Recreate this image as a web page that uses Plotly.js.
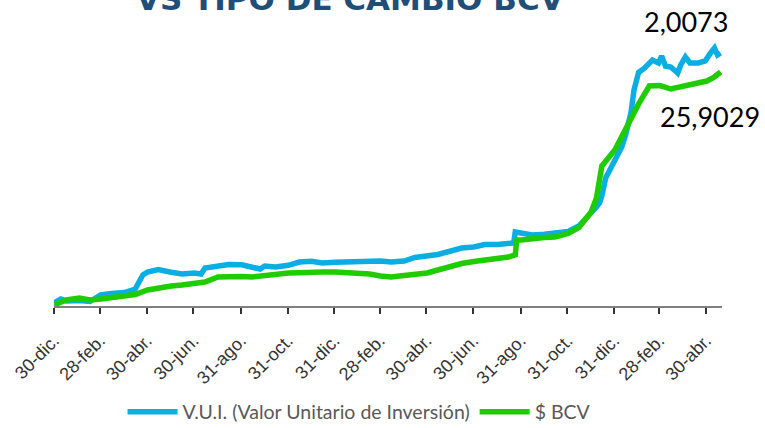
<!DOCTYPE html>
<html>
<head>
<meta charset="utf-8">
<script src="https://cdn.plot.ly/plotly-3.0.1.min.js"></script>
<style>
  html, body { margin: 0; padding: 0; background: #ffffff; }
  #chart { width: 765px; height: 428px; }
</style>
</head>
<body>
<div id="chart"></div>
<script>
// ---- Data ----
const tickDates = ["2020-12-30","2021-02-28","2021-04-30","2021-06-30","2021-08-31","2021-10-31",
  "2021-12-31","2022-02-28","2022-04-30","2022-06-30","2022-08-31","2022-10-31","2022-12-31",
  "2023-02-28","2023-04-30"];
const tickLabels = ["30-dic.","28-feb.","30-abr.","30-jun.","31-ago.","31-oct.","31-dic.",
  "28-feb.","30-abr.","30-jun.","31-ago.","31-oct.","31-dic.","28-feb.","30-abr."];

const vuiDates = ["2020-12-30","2021-01-08","2021-01-15","2021-02-01","2021-02-15","2021-03-01",
  "2021-03-15","2021-04-01","2021-04-15","2021-04-25","2021-05-01","2021-05-15","2021-06-01",
  "2021-06-15","2021-07-01","2021-07-10","2021-07-15","2021-08-01","2021-08-15","2021-09-01",
  "2021-09-15","2021-09-25","2021-10-01","2021-10-15","2021-11-01","2021-11-15","2021-12-01",
  "2021-12-15","2022-01-01","2022-01-15","2022-02-01","2022-02-15","2022-03-01","2022-03-15",
  "2022-04-01","2022-04-15","2022-05-01","2022-05-15","2022-06-01","2022-06-15","2022-07-01",
  "2022-07-15","2022-08-01","2022-08-15","2022-08-22","2022-08-24","2022-09-01","2022-09-15",
  "2022-10-01","2022-10-15","2022-11-01","2022-11-15","2022-12-01","2022-12-08","2022-12-12",
  "2022-12-15","2022-12-20","2022-12-25","2023-01-01","2023-01-10","2023-01-15","2023-01-22",
  "2023-01-26","2023-02-01","2023-02-09","2023-02-15","2023-02-19","2023-02-27","2023-03-03",
  "2023-03-08","2023-03-15","2023-03-24","2023-03-28","2023-04-03","2023-04-09","2023-04-20",
  "2023-04-29","2023-05-05","2023-05-11","2023-05-15","2023-05-19"];
const vuiValues = [0.0953,0.1259,0.1106,0.1144,0.1068,0.1565,
  0.1680,0.1756,0.2024,0.3094,0.3324,0.3515,0.3308,
  0.3171,0.3247,0.3171,0.3630,0.3744,0.3897,0.3874,
  0.3706,0.3553,0.3783,0.3706,0.3836,0.4089,0.4150,
  0.4012,0.4066,0.4112,0.4165,0.4165,0.4165,0.4089,
  0.4165,0.4433,0.4563,0.4662,0.4930,0.5159,0.5236,
  0.5427,0.5427,0.5504,0.5542,0.6383,0.6269,0.6154,
  0.6207,0.6268,0.6421,0.6842,0.7760,0.8295,0.8601,
  0.9136,1.0513,1.1048,1.1813,1.2884,1.3802,1.5484,
  1.7243,1.8590,1.8926,1.9385,1.9538,1.9308,1.9843,
  1.9079,1.9002,1.8543,1.9155,1.9767,1.9308,1.9308,
  1.9461,2.0000,2.0455,1.9920,2.0073];

const bcvDates = ["2020-12-30","2021-01-15","2021-02-01","2021-02-15","2021-03-01","2021-03-15",
  "2021-04-01","2021-04-15","2021-05-01","2021-05-15","2021-06-01","2021-06-15","2021-07-01",
  "2021-07-15","2021-08-01","2021-08-15","2021-09-01","2021-09-15","2021-10-01","2021-10-15",
  "2021-11-01","2021-11-15","2021-12-01","2021-12-15","2022-01-01","2022-01-15","2022-02-01",
  "2022-02-15","2022-03-01","2022-03-15","2022-04-01","2022-04-15","2022-05-01","2022-05-15",
  "2022-06-01","2022-06-15","2022-07-01","2022-07-15","2022-08-01","2022-08-15","2022-08-24",
  "2022-08-26","2022-09-01","2022-09-15","2022-10-01","2022-10-15","2022-11-01","2022-11-15",
  "2022-12-01","2022-12-08","2022-12-12","2022-12-15","2023-01-01","2023-01-15","2023-02-01",
  "2023-02-15","2023-03-01","2023-03-15","2023-04-01","2023-04-15","2023-05-01","2023-05-10",
  "2023-05-19"];
const bcvValues = [1.107,1.64,1.85,1.64,1.75,1.89,
  1.96,2.22,2.70,2.92,3.13,3.24,3.40,
  3.55,4.09,4.16,4.14,4.09,4.28,4.37,
  4.51,4.54,4.62,4.62,4.62,4.59,4.51,
  4.41,4.19,4.09,4.25,4.35,4.51,4.83,
  5.26,5.52,5.74,5.86,6.00,6.21,6.43,
  8.02,8.02,8.18,8.28,8.34,8.72,9.35,
  11.00,12.49,14.94,15.90,17.60,19.84,22.50,
  24.41,24.46,24.09,24.41,24.73,24.94,25.32,
  25.9029];

const seriesNames = ["V.U.I. (Valor Unitario de Inversión)", "$ BCV"];
const lastVui = "2,0073";
const lastBcv = "25,9029";
const titleText = "VS TIPO DE CAMBIO BCV";

// ---- Chart ----
const traces = [
  { x: vuiDates, y: vuiValues, name: seriesNames[0], type: "scatter", mode: "lines",
    yaxis: "y", line: { color: "#0AAEE2", width: 5.5 }, hoverinfo: "skip" },
  { x: bcvDates, y: bcvValues, name: seriesNames[1], type: "scatter", mode: "lines",
    yaxis: "y2", line: { color: "#1FCC00", width: 5.5 }, hoverinfo: "skip" }
];

const layout = {
  width: 765, height: 428,
  margin: { l: 54, r: 43, t: 30, b: 122 },
  paper_bgcolor: "#ffffff", plot_bgcolor: "#ffffff",
  showlegend: true,
  legend: {
    orientation: "h", xref: "container", yref: "container",
    x: 0.47, xanchor: "center", y: 0.037, yanchor: "middle",
    font: { family: "Lato, 'Open Sans', sans-serif", size: 19.5, color: "#595959" },
    itemwidth: 50, traceorder: "normal"
  },
  xaxis: {
    type: "date", range: ["2020-12-30", "2023-05-20 20:00"],
    tickmode: "array", tickvals: tickDates, ticktext: tickLabels,
    tickangle: -45, ticks: "outside", ticklen: 6, tickwidth: 2, tickcolor: "#333",
    ticklabelstandoff: 9,
    showline: true, linecolor: "#808080", linewidth: 2,
    showgrid: false, zeroline: false,
    tickfont: { family: "'Liberation Sans', Arial, sans-serif", size: 18, color: "#333" }
  },
  yaxis: {
    range: [0.0724, 2.1832], visible: false, showgrid: false, zeroline: false
  },
  yaxis2: {
    range: [1.0006, 30.37], overlaying: "y", side: "right",
    visible: false, showgrid: false, zeroline: false
  },
  annotations: [
    { text: titleText, xref: "paper", yref: "paper", x: (350 - 54) / 668, y: 1.111,
      xanchor: "center", yanchor: "middle", showarrow: false,
      font: { family: "'DejaVu Sans', sans-serif", size: 31, color: "#1F4E79", weight: 900 } },
    { text: lastVui, xref: "paper", yref: "paper", x: 0.9454, y: 1.0308,
      xanchor: "center", yanchor: "middle", showarrow: false,
      font: { family: "Lato, 'Open Sans', sans-serif", size: 27, color: "#000" } },
    { text: lastBcv, xref: "paper", yref: "paper", x: 0.982, y: 0.6866,
      xanchor: "center", yanchor: "middle", showarrow: false,
      font: { family: "Lato, 'Open Sans', sans-serif", size: 27, color: "#000" } }
  ]
};

Plotly.newPlot("chart", traces, layout, { staticPlot: true, displayModeBar: false });
</script>
</body>
</html>
